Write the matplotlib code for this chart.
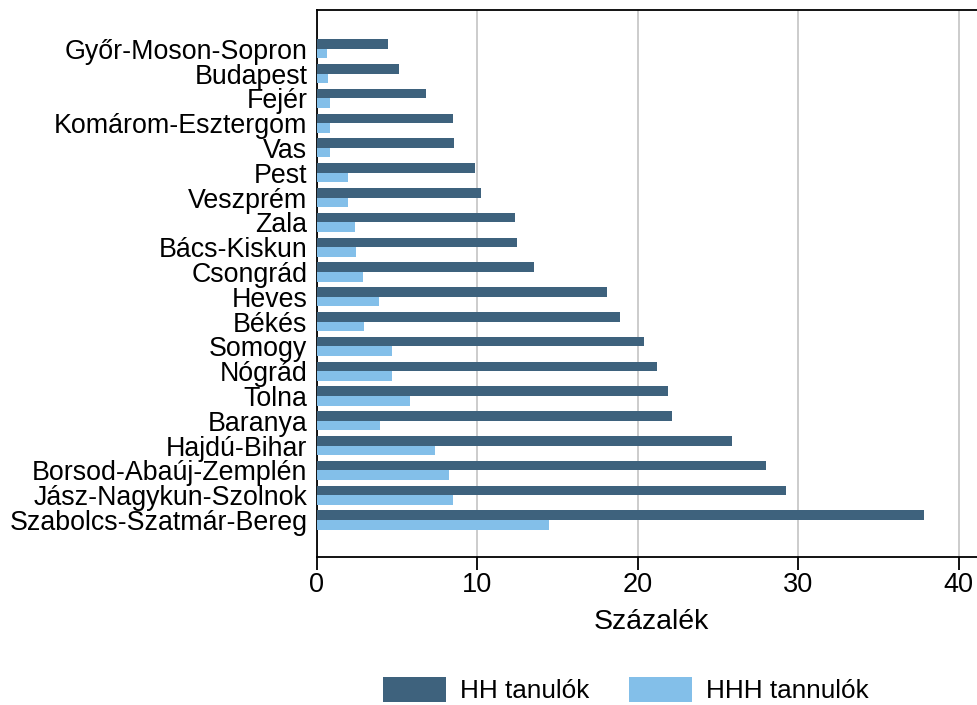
import matplotlib
matplotlib.use("Agg")
import matplotlib.pyplot as plt
import numpy as np
from matplotlib.patches import Patch

plt.rcParams['font.family'] = ['Liberation Sans', 'DejaVu Sans']

counties = ["Győr-Moson-Sopron", "Budapest", "Fejér", "Komárom-Esztergom", "Vas",
            "Pest", "Veszprém", "Zala", "Bács-Kiskun", "Csongrád", "Heves", "Békés",
            "Somogy", "Nógrád", "Tolna", "Baranya", "Hajdú-Bihar",
            "Borsod-Abaúj-Zemplén", "Jász-Nagykun-Szolnok", "Szabolcs-Szatmár-Bereg"]
hh = [4.4, 5.1, 6.8, 8.45, 8.55, 9.85, 10.2, 12.35, 12.47, 13.5, 18.06, 18.87,
      20.37, 21.2, 21.86, 22.13, 25.89, 28.01, 29.24, 37.82]
hhh = [0.6, 0.67, 0.79, 0.83, 0.79, 1.93, 1.95, 2.39, 2.41, 2.89, 3.87, 2.93,
       4.7, 4.7, 5.78, 3.93, 7.36, 8.21, 8.48, 14.45]
xticks = [0, 10, 20, 30, 40]
col_hh = "#3e627d"
col_hhh = "#83bfe9"

fig = plt.figure(figsize=(9.77, 7.05), dpi=100)
ax = fig.add_axes([317/977, 1 - 557/705, (985 - 317)/977, (557 - 10)/705])

y = np.arange(len(counties))
h = 0.385
ax.barh(y - h/2, hh, height=h, color=col_hh, linewidth=0, zorder=3)
ax.barh(y + h/2, hhh, height=h, color=col_hhh, linewidth=0, zorder=3)

ax.set_ylim(len(counties) - 1 + 1.49, -1.56)
ax.set_xlim(0, 41.65)
ax.set_yticks(y)
ax.set_yticklabels(counties, fontsize=19.3)
ax.tick_params(axis='y', length=0, pad=7)
ax.set_xticks(xticks)
ax.set_xticklabels([str(t) for t in xticks], fontsize=19.5)
ax.tick_params(axis='x', length=9, width=1.3, pad=2, direction='out')
ax.grid(axis='x', color='#c8c8c8', linewidth=1.3, zorder=0)
ax.set_axisbelow(True)
for s in ['left', 'bottom', 'top']:
    ax.spines[s].set_linewidth(1.3)
    ax.spines[s].set_color('black')
ax.spines['right'].set_visible(False)
ax.set_xlabel("Százalék", fontsize=20.5, labelpad=8)

handles = [Patch(facecolor=col_hh, edgecolor='none'), Patch(facecolor=col_hhh, edgecolor='none')]
fig.legend(handles, ["HH tanulók", "HHH tannulók"], loc='center', bbox_to_anchor=(626/977, 1 - 690/705),
           ncol=2, frameon=False, fontsize=18.8, handlelength=2.4, handleheight=1.1,
           handletextpad=0.55, columnspacing=1.5)

fig.savefig("out.png", dpi=100)
